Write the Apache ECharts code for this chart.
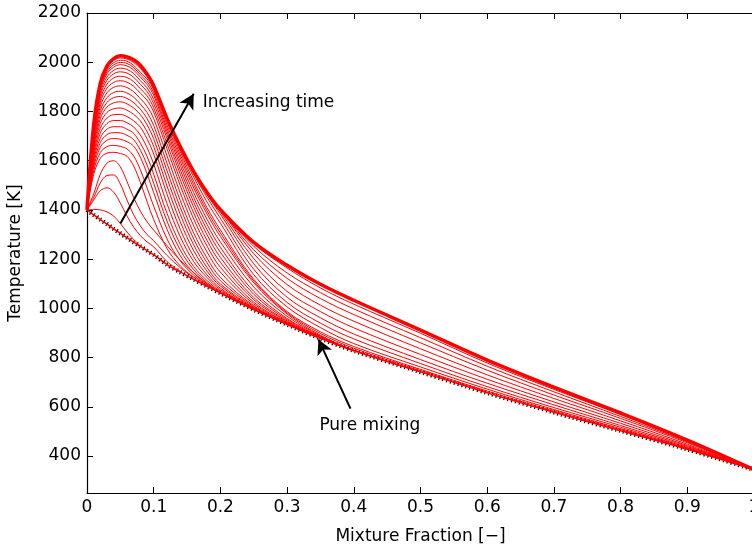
<!DOCTYPE html>
<html><head><meta charset="utf-8">
<script src="https://cdn.jsdelivr.net/npm/echarts@6/dist/echarts.min.js"></script>
<style>html,body{margin:0;padding:0;background:#fff}#c{width:752px;height:551px}</style>
</head><body><div id="c"></div>
<script>
// Mixture fraction grid shared by all curves
const zGrid = [0,0.01,0.02,0.03,0.04,0.05,0.06,0.07,0.08,0.09,0.10,0.12,0.14,0.16,0.18,0.20,0.25,0.30,0.35,0.40,0.50,0.60,0.70,0.80,0.90,1.0];
// Pure mixing line
const pureMixing = [1400,1380,1361,1342,1323,1305,1287,1269,1252,1235,1218,1178,1147,1118,1090,1062,995,935,878,828,742,657,578,503,428,345];
// Early-time curves (end where they rejoin the mixing line)
const early1 = [1400,1402,1400,1392,1375,1345,1310,1280,1253];
const early2 = [1400,1440,1478,1490,1472,1428,1375,1330,1296,1270,1250,1190,1150];
const early3 = [1400,1450,1510,1540,1542,1505,1440,1380,1335,1300,1275,1215,1165,1124];
const early4 = [1400,1465,1545,1590,1600,1575,1515,1450,1395,1352,1318,1255,1195,1145,1100,1064];
// Intermediate curves
const mid1 = [1400,1544,1610,1631,1634,1629,1618,1578,1512,1434,1361,1243,1172,1127,1090];
const midG = [1400,1559,1633,1657,1662,1658,1648,1619,1563,1490,1415,1282,1192,1135,1094,1062];
const mid2 = [1400,1573,1655,1683,1690,1687,1677,1659,1614,1547,1470,1321,1213,1144,1098,1062];
const midH = [1400,1586,1674,1706,1714,1713,1703,1685,1643,1583,1508,1354,1236,1157,1105,1066,995];
const mid3 = [1400,1599,1693,1728,1738,1738,1728,1711,1671,1618,1545,1386,1259,1170,1113,1070,995];
const midI = [1400,1612,1713,1751,1763,1763,1754,1737,1704,1654,1586,1425,1290,1190,1125,1076,997,935];
const mid4 = [1400,1625,1732,1773,1787,1788,1779,1762,1736,1689,1627,1464,1320,1210,1136,1082,998,935];
const midJ = [1400,1638,1752,1796,1811,1814,1805,1788,1762,1718,1658,1497,1351,1234,1151,1091,1001,935];
const mid5 = [1400,1650,1771,1818,1835,1839,1831,1814,1787,1746,1689,1529,1381,1258,1166,1099,1003,935];
const midA = [1400,1661,1788,1837,1856,1861,1853,1836,1809,1771,1716,1559,1409,1282,1185,1112,1007,936,878];
const mid6 = [1400,1672,1804,1856,1877,1882,1875,1858,1830,1796,1743,1589,1437,1306,1204,1126,1011,937,878];
const midB = [1400,1683,1821,1876,1898,1904,1897,1880,1852,1821,1771,1619,1468,1335,1229,1147,1018,940,878];
const mid7 = [1400,1694,1837,1895,1918,1925,1919,1902,1874,1846,1798,1648,1498,1363,1253,1167,1025,942,878];
const midC = [1400,1703,1851,1911,1936,1943,1938,1921,1892,1864,1815,1669,1521,1387,1276,1187,1035,946,879,828];
const mid8 = [1400,1712,1865,1927,1953,1961,1956,1939,1910,1881,1832,1690,1544,1411,1299,1207,1044,949,880,828];
const midD = [1400,1720,1876,1940,1967,1976,1971,1954,1925,1896,1849,1705,1562,1431,1320,1228,1057,954,883,828];
const mid9 = [1400,1727,1887,1953,1980,1990,1985,1968,1939,1910,1866,1719,1580,1450,1341,1248,1069,959,885,828];
const midE = [1400,1732,1894,1961,1989,1999,1995,1978,1949,1921,1877,1732,1595,1470,1362,1270,1087,968,888,830,742];
const mid10 = [1400,1736,1901,1969,1998,2008,2004,1987,1959,1932,1888,1745,1610,1489,1383,1292,1104,977,891,831,742];
const midF = [1400,1741,1908,1977,2007,2017,2013,1999,1974,1942,1897,1759,1623,1503,1396,1306,1111,982,898,838,747,660];
// Late curves with long tails
const late1 = [1400,1745,1915,1985,2015,2026,2022,2010,1988,1952,1905,1772,1636,1516,1409,1319,1118,987,905,845,752,664,583,507,430,345];
const late2 = [1400,1745,1915,1985,2015,2026,2022,2010,1988,1952,1905,1772,1646,1533,1432,1346,1137,1006,922,857,762,672,589,511,432,345];
const late3 = [1400,1745,1915,1985,2015,2026,2022,2010,1988,1952,1905,1772,1656,1546,1451,1366,1159,1024,940,876,776,682,597,517,435,345];
const late4 = [1400,1745,1915,1985,2015,2026,2022,2010,1988,1952,1905,1772,1656,1555,1462,1383,1181,1045,962,896,792,696,608,524,439,345];
const late5 = [1400,1745,1915,1985,2015,2026,2022,2010,1988,1952,1905,1772,1656,1556,1470,1393,1202,1069,987,921,813,712,620,533,443,345];
const late6 = [1400,1745,1915,1985,2015,2026,2022,2010,1988,1952,1905,1772,1656,1556,1471,1401,1222,1097,1013,948,836,730,634,543,448,345];
const late7 = [1400,1745,1915,1985,2015,2026,2022,2010,1988,1952,1905,1772,1656,1556,1471,1401,1238,1122,1040,975,860,749,648,553,454,345];
const late8 = [1400,1745,1915,1985,2015,2026,2022,2010,1988,1952,1905,1772,1656,1556,1471,1401,1252,1144,1064,998,881,765,661,561,458,345];
const late9 = [1400,1745,1915,1985,2015,2026,2022,2010,1988,1952,1905,1772,1656,1556,1471,1401,1263,1164,1083,1017,899,778,671,569,462,345];
// Final (burning) envelope
const finalCurve = [1400,1745,1915,1985,2015,2026,2022,2010,1988,1952,1905,1772,1656,1556,1471,1401,1268,1175,1098,1033,912,790,680,575,465,345];

const xTicks = [0,0.1,0.2,0.3,0.4,0.5,0.6,0.7,0.8,0.9,1];
const yTicks = [400,600,800,1000,1200,1400,1600,1800,2000,2200];

// annotation arrows [tail, head] in data coords
const arrowTime = [[0.050,1345],[0.160,1872]];
const arrowMix = [[0.395,593],[0.347,874]];
const labelTime = {text:'Increasing time', at:[0.1735,1836]};
const labelMix = {text:'Pure mixing', at:[0.424,524]};

const FONT = 'DejaVu Sans';
const toPts = v => v.map((t,i)=>[zGrid[i], t]);

const redSets = [early1,early2,early3,early4,mid1,midG,mid2,midH,mid3,midI,mid4,midJ,mid5,midA,mid6,midB,mid7,midC,mid8,midD,mid9,midE,mid10,midF,
                 late1,late2,late3,late4,late5,late6,late7,late8,late9];

const series = [];
series.push({
  type:'line', data: toPts(pureMixing), symbol:'none', smooth:0.3, z:1,
  lineStyle:{color:'#000', width:4.5, type:[1.2,2.8]}, silent:true
});
series.push({
  type:'line', data: toPts(pureMixing), symbol:'none', smooth:0.3, z:3,
  lineStyle:{color:'#ff0000', width:1.5}, silent:true
});
redSets.forEach(arr => series.push({
  type:'line', data: toPts(arr), symbol:'none', smooth:0.35, z:3,
  lineStyle:{color:'#ff0000', width:1}, silent:true
}));
series.push({
  type:'line', data: toPts(finalCurve), symbol:'none', smooth:0.35, z:3,
  lineStyle:{color:'#ff0000', width:3.5}, silent:true
});
const txt = {color:'#000', fontFamily:FONT, fontSize:17, textBorderWidth:0, opacity:1};
series.push({
  type:'scatter', symbolSize:0, z:10, silent:true,
  itemStyle:{opacity:1},
  data:[
    {value:labelTime.at, label:{show:true, position:'right', distance:0, formatter:labelTime.text, ...txt}},
    {value:labelMix.at, label:{show:true, position:'inside', formatter:labelMix.text, ...txt}}
  ],
  markLine:{
    silent:true, symbol:['none','arrow'], symbolSize:[12,15], animation:false,
    label:{show:false},
    lineStyle:{color:'#000', width:2, type:'solid', opacity:1},
    data:[
      [{coord:arrowTime[0]},{coord:arrowTime[1]}],
      [{coord:arrowMix[0]},{coord:arrowMix[1]}]
    ]
  }
});

const axisFont = {color:'#000', fontFamily:FONT, fontSize:17};
const option = {
  animation:false,
  backgroundColor:'#fff',
  grid:{left:87, right:-2, top:13, bottom:58, containLabel:false, outerBoundsMode:'none'},
  xAxis:[{
    type:'value', min:0, max:1, interval:0.1,
    name:'Mixture Fraction [\u2212]', nameLocation:'middle', nameGap:35,
    nameTextStyle:axisFont,
    axisLine:{show:true, onZero:false, lineStyle:{color:'#000', width:1.2}},
    axisTick:{show:true, inside:true, length:6, lineStyle:{color:'#000'}},
    axisLabel:{...axisFont, margin:6, customValues:xTicks, formatter:v=>String(+(+v).toFixed(1))},
    splitLine:{show:false}
  },{
    type:'value', min:0, max:1, interval:0.1, position:'top',
    axisLine:{show:true, onZero:false, lineStyle:{color:'#000', width:1.2}},
    axisTick:{show:true, inside:true, length:6, lineStyle:{color:'#000'}},
    axisLabel:{show:false}, splitLine:{show:false}
  }],
  yAxis:[{
    type:'value', min:250, max:2200,
    name:'Temperature [K]', nameLocation:'middle', nameGap:63, nameRotate:90,
    nameTextStyle:axisFont,
    axisLine:{show:true, onZero:false, lineStyle:{color:'#000', width:1.2}},
    axisTick:{show:true, inside:true, length:6, customValues:yTicks, lineStyle:{color:'#000'}},
    axisLabel:{...axisFont, margin:6, customValues:yTicks, formatter:v=>String(v)},
    splitLine:{show:false}
  }],
  series
};
const chart = echarts.init(document.getElementById('c'));
chart.setOption(option);
</script>
</body></html>
